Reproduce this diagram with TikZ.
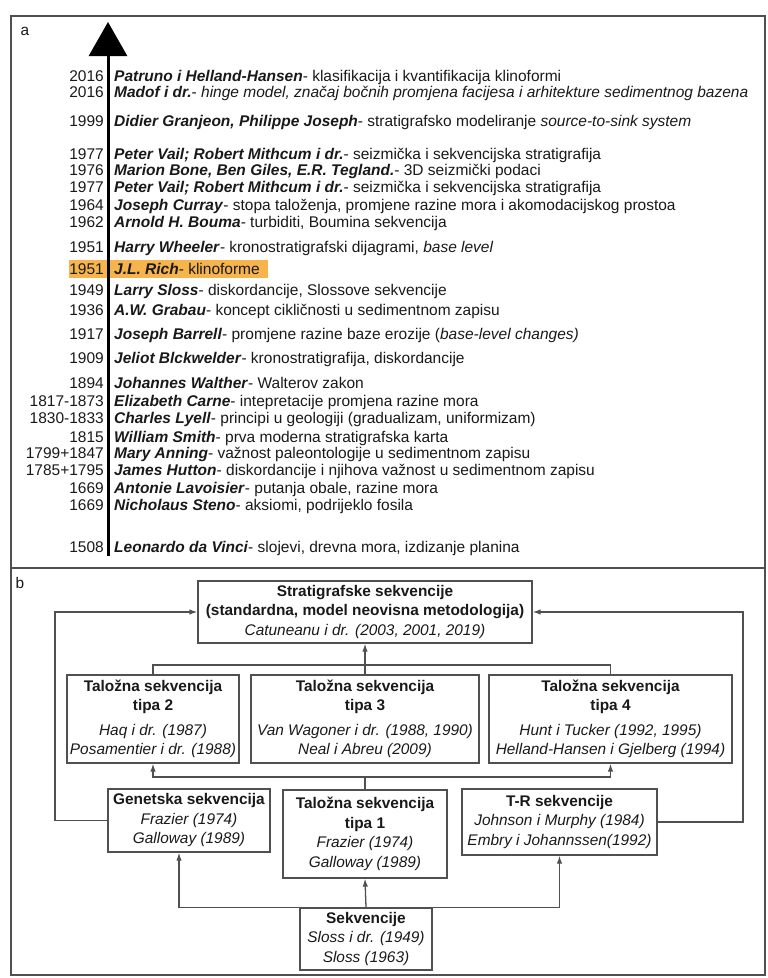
\documentclass[tikz,border=0pt]{standalone}
\usepackage{fontspec}
\setmainfont{Liberation Sans}
\usetikzlibrary{arrows.meta, positioning}
\definecolor{boxgray}{RGB}{80,80,80}
\definecolor{textblack}{RGB}{25,25,25}
\definecolor{tlorange}{RGB}{246,180,76}

\begin{document}
\begin{tikzpicture}[x=1pt, y=-1pt, text=textblack]
\tikzset{
    yearnode/.style={anchor=base east, inner sep=0pt, font=\fontsize{15.5}{17}\selectfont},
    eventnode/.style={anchor=base west, inner sep=0pt, font=\fontsize{15.5}{17}\selectfont},
    seqbox/.style={rectangle, draw=boxgray, line width=1.3pt, align=center, inner sep=0pt, font=\fontsize{15.4}{19.5}\selectfont},
    myarrow/.style={-{Latex[length=8pt, width=5.5pt]}, draw=boxgray, line width=1.3pt},
    myline/.style={draw=boxgray, line width=1.3pt}
}
\newcommand{\who}[1]{\textbf{\textit{#1}}}
\useasboundingbox (0,0) rectangle (768,978);

% panels
\draw[boxgray, line width=1.5pt] (11,16) rectangle (765,975);
\draw[boxgray, line width=1.5pt] (11,568) -- (765,568);
\node[font=\fontsize{15.4}{17}\selectfont] (lab_a) at (25,31) {a};
\node[font=\fontsize{15.4}{17}\selectfont] (lab_b) at (20,583) {b};

% timeline
\fill[tlorange] (69,260) rectangle (268,278);
\draw[black, line width=3pt, -{Triangle[width=38pt, length=34pt]}] (108,556) -- (108,22);

\node[yearnode] (patruno_yr) at (104,81.5) {2016};
\node[eventnode] (patruno) at (114,81.5) {\who{Patruno i Helland-Hansen}- klasifikacija i kvantifikacija klinoformi};
\node[yearnode] (madof_yr) at (104,97.5) {2016};
\node[eventnode] (madof) at (114,97.5) {\who{Madof i dr.}- \textit{hinge model, značaj bočnih promjena facijesa i arhitekture sedimentnog bazena}};
\node[yearnode] (granjeon_yr) at (104,126.5) {1999};
\node[eventnode] (granjeon) at (114,126.5) {\who{Didier Granjeon, Philippe Joseph}- stratigrafsko modeliranje \textit{source-to-sink system}};
\node[yearnode] (vail_yr) at (104,159.5) {1977};
\node[eventnode] (vail) at (114,159.5) {\who{Peter Vail; Robert Mithcum i dr.}- seizmička i sekvencijska stratigrafija};
\node[yearnode] (bone_yr) at (104,175.5) {1976};
\node[eventnode] (bone) at (114,175.5) {\who{Marion Bone, Ben Giles, E.R. Tegland.}- 3D seizmički podaci};
\node[yearnode] (vail2_yr) at (104,192.5) {1977};
\node[eventnode] (vail2) at (114,192.5) {\who{Peter Vail; Robert Mithcum i dr.}- seizmička i sekvencijska stratigrafija};
\node[yearnode] (curray_yr) at (104,210.5) {1964};
\node[eventnode] (curray) at (114,210.5) {\who{Joseph Curray}- stopa taloženja, promjene razine mora i akomodacijskog prostoa};
\node[yearnode] (bouma_yr) at (104,227.5) {1962};
\node[eventnode] (bouma) at (114,227.5) {\who{Arnold H. Bouma}- turbiditi, Boumina sekvencija};
\node[yearnode] (wheeler_yr) at (104,252.5) {1951};
\node[eventnode] (wheeler) at (114,252.5) {\who{Harry Wheeler}- kronostratigrafski dijagrami, \textit{base level}};
\node[yearnode] (rich_yr) at (104,274.5) {1951};
\node[eventnode] (rich) at (114,274.5) {\who{J.L. Rich}- klinoforme};
\node[yearnode] (sloss_yr) at (104,295.5) {1949};
\node[eventnode] (sloss) at (114,295.5) {\who{Larry Sloss}- diskordancije, Slossove sekvencije};
\node[yearnode] (grabau_yr) at (104,315.5) {1936};
\node[eventnode] (grabau) at (114,315.5) {\who{A.W. Grabau}- koncept cikličnosti u sedimentnom zapisu};
\node[yearnode] (barrell_yr) at (104,339.5) {1917};
\node[eventnode] (barrell) at (114,339.5) {\who{Joseph Barrell}- promjene razine baze erozije (\textit{base-level changes)}};
\node[yearnode] (blackwelder_yr) at (104,363.5) {1909};
\node[eventnode] (blackwelder) at (114,363.5) {\who{Jeliot Blckwelder}- kronostratigrafija, diskordancije};
\node[yearnode] (walther_yr) at (104,388.5) {1894};
\node[eventnode] (walther) at (114,388.5) {\who{Johannes Walther}- Walterov zakon};
\node[yearnode] (carne_yr) at (104,406.5) {1817-1873};
\node[eventnode] (carne) at (114,406.5) {\who{Elizabeth Carne}- intepretacije promjena razine mora};
\node[yearnode] (lyell_yr) at (104,423.5) {1830-1833};
\node[eventnode] (lyell) at (114,423.5) {\who{Charles Lyell}- principi u geologiji (gradualizam, uniformizam)};
\node[yearnode] (smith_yr) at (104,442.5) {1815};
\node[eventnode] (smith) at (114,442.5) {\who{William Smith}- prva moderna stratigrafska karta};
\node[yearnode] (anning_yr) at (104,458.5) {1799+1847};
\node[eventnode] (anning) at (114,458.5) {\who{Mary Anning}- važnost paleontologije u sedimentnom zapisu};
\node[yearnode] (hutton_yr) at (104,475.5) {1785+1795};
\node[eventnode] (hutton) at (114,475.5) {\who{James Hutton}- diskordancije i njihova važnost u sedimentnom zapisu};
\node[yearnode] (lavoisier_yr) at (104,493.5) {1669};
\node[eventnode] (lavoisier) at (114,493.5) {\who{Antonie Lavoisier}- putanja obale, razine mora};
\node[yearnode] (steno_yr) at (104,510.5) {1669};
\node[eventnode] (steno) at (114,510.5) {\who{Nicholaus Steno}- aksiomi, podrijeklo fosila};
\node[yearnode] (vinci_yr) at (104,552.5) {1508};
\node[eventnode] (vinci) at (114,552.5) {\who{Leonardo da Vinci}- slojevi, drevna mora, izdizanje planina};

% sequence scheme
\node[seqbox, minimum width=334pt, minimum height=62pt] (strat) at (365,612) {\textbf{Stratigrafske sekvencije}\\\textbf{(standardna, model neovisna metodologija)}\\\textit{Catuneanu i dr. (2003, 2001, 2019)}};
\node[seqbox, minimum width=172pt, minimum height=88pt] (tipa2) at (153,719) {\textbf{Taložna sekvencija}\\\textbf{tipa 2}\\[5pt]\textit{Haq i dr. (1987)}\\\textit{Posamentier i dr. (1988)}};
\node[seqbox, minimum width=228pt, minimum height=88pt] (tipa3) at (365,719) {\textbf{Taložna sekvencija}\\\textbf{tipa 3}\\[5pt]\textit{Van Wagoner i dr. (1988, 1990)}\\\textit{Neal i Abreu (2009)}};
\node[seqbox, minimum width=243pt, minimum height=88pt] (tipa4) at (610.5,719) {\textbf{Taložna sekvencija}\\\textbf{tipa 4}\\[5pt]\textit{Hunt i Tucker (1992, 1995)}\\\textit{Helland-Hansen i Gjelberg (1994)}};
\node[seqbox, minimum width=162pt, minimum height=63pt] (gen) at (189,820.5) {\textbf{Genetska sekvencija}\\\textit{Frazier (1974)}\\\textit{Galloway (1989)}};
\node[seqbox, minimum width=164pt, minimum height=88pt] (tipa1) at (365,834) {\textbf{Taložna sekvencija}\\\textbf{tipa 1}\\\textit{Frazier (1974)}\\\textit{Galloway (1989)}};
\node[seqbox, minimum width=195pt, minimum height=66pt] (tr) at (559.5,822) {\textbf{T-R sekvencije}\\\textit{Johnson i Murphy (1984)}\\\textit{Embry i Johannssen(1992)}};
\node[seqbox, minimum width=132pt, minimum height=62pt] (sek) at (366,939) {\textbf{Sekvencije}\\\textit{Sloss i dr. (1949)}\\\textit{Sloss (1963)}};

\coordinate (topbus) at (365,665);
\coordinate (midbus) at (365,777);
\coordinate (leftrail) at (55,700);
\coordinate (rightrail) at (743,700);

\draw[myarrow] (tipa3.north) -- (strat.south);
\draw[myline] (tipa2.north) |- (topbus) -| (tipa4.north);
\draw[myarrow] (gen.west) -| (leftrail) |- (strat.west);
\draw[myarrow] (tr.east) -| (rightrail) |- (strat.east);
\draw[myline] (tipa1.north) -- (midbus);
\draw[myarrow] (midbus) -| (tipa2.south);
\draw[myarrow] (midbus) -| (tipa4.south);
\draw[myarrow] (sek.north) -- (tipa1.south);
\draw[myarrow] (sek.north west) -| ([xshift=-10pt]gen.south);
\draw[myarrow] (sek.north east) -| (tr.south);
\end{tikzpicture}
\end{document}
